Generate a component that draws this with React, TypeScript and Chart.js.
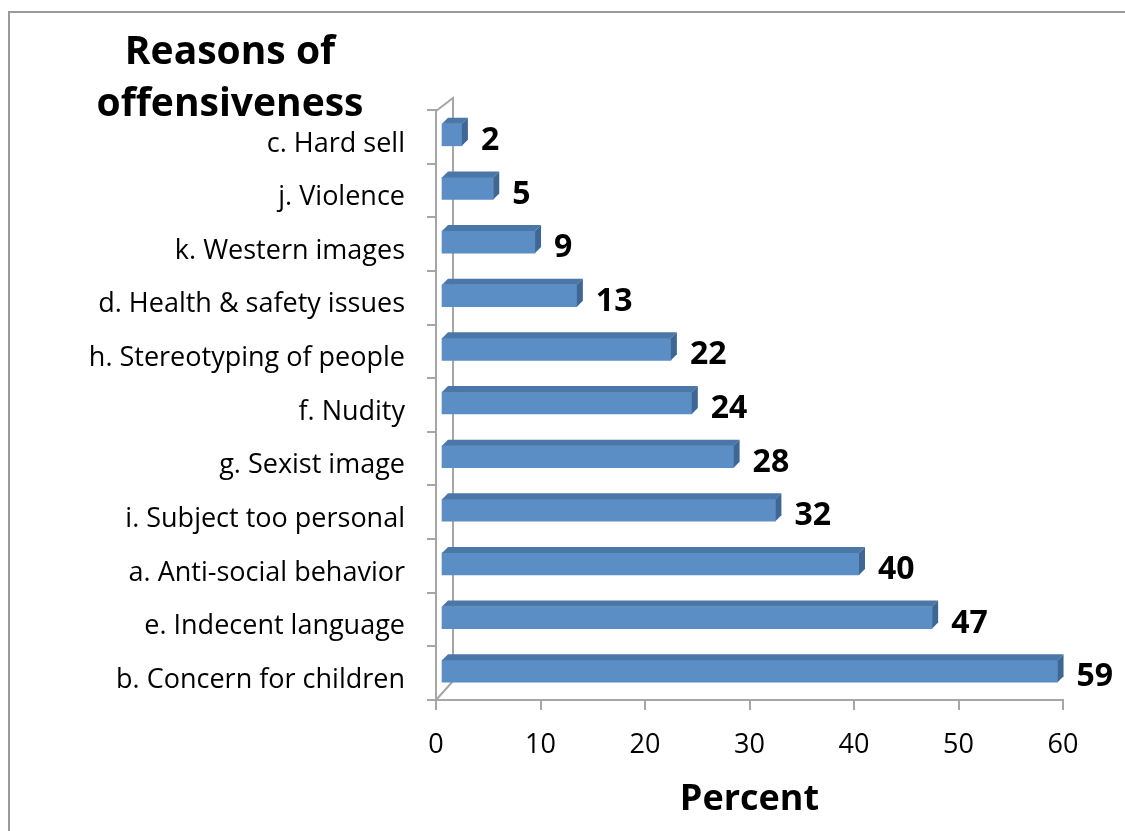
import React, { useEffect, useRef } from "react";
import { Chart, registerables } from "chart.js";

Chart.register(...registerables);

const categories: string[] = [
  "c. Hard sell",
  "j. Violence",
  "k. Western images",
  "d. Health & safety issues",
  "h. Stereotyping of people",
  "f. Nudity",
  "g. Sexist image",
  "i. Subject too personal",
  "a. Anti-social behavior",
  "e. Indecent language",
  "b. Concern for children",
];
const percentValues: number[] = [2, 5, 9, 13, 22, 24, 28, 32, 40, 47, 59];
const titleLines: string[] = ["Reasons of", "offensiveness"];
const xAxisTitle = "Percent";
const xMin = 0;
const xMax = 60;
const xStep = 10;

const FONT = "'Open Sans', 'DejaVu Sans', sans-serif";
const AXIS = "#a6a6a6";
const FRONT = "#5b8ec5";
const TOP = "#4b77a8";
const SIDE = "#3f6794";

const decorPlugin = {
  id: "decor3d",
  beforeDraw(chart: any) {
    const ctx = chart.ctx;
    ctx.save();
    // outer frame (left + top)
    ctx.strokeStyle = "#9a9a9a";
    ctx.lineWidth = 2;
    ctx.beginPath();
    ctx.moveTo(9, 831);
    ctx.lineTo(9, 12);
    ctx.lineTo(1125, 12);
    ctx.stroke();
    // back wall lines of the 3D plot
    const a = chart.chartArea;
    ctx.strokeStyle = AXIS;
    ctx.lineWidth = 2;
    ctx.beginPath();
    ctx.moveTo(a.left, a.top + 1);
    ctx.lineTo(a.left + 17, a.top - 12);
    ctx.lineTo(a.left + 17, a.bottom - 19);
    ctx.lineTo(a.left, a.bottom);
    ctx.stroke();
    // chart title
    ctx.fillStyle = "#000";
    ctx.font = `bold 39px ${FONT}`;
    ctx.textAlign = "center";
    ctx.textBaseline = "alphabetic";
    ctx.fillText(titleLines[0], 230, 64);
    ctx.fillText(titleLines[1], 230, 116);
    ctx.restore();
  },
  beforeDatasetsDraw(chart: any) {
    chart.ctx.save();
    chart.ctx.translate(5, -2);
  },
  afterDatasetsDraw(chart: any) {
    const ctx = chart.ctx;
    const meta = chart.getDatasetMeta(0);
    const d = 6;
    meta.data.forEach((bar: any) => {
      const left = Math.min(bar.base, bar.x);
      const right = Math.max(bar.base, bar.x);
      const top = bar.y - bar.height / 2;
      const bottom = bar.y + bar.height / 2;
      ctx.fillStyle = TOP;
      ctx.beginPath();
      ctx.moveTo(left, top);
      ctx.lineTo(left + d, top - d);
      ctx.lineTo(right + d, top - d);
      ctx.lineTo(right, top);
      ctx.closePath();
      ctx.fill();
      ctx.fillStyle = SIDE;
      ctx.beginPath();
      ctx.moveTo(right, top);
      ctx.lineTo(right + d, top - d);
      ctx.lineTo(right + d, bottom - d);
      ctx.lineTo(right, bottom);
      ctx.closePath();
      ctx.fill();
    });
    ctx.restore();
  },
  afterDraw(chart: any) {
    const ctx = chart.ctx;
    const meta = chart.getDatasetMeta(0);
    const a = chart.chartArea;
    ctx.save();
    ctx.fillStyle = "#000";
    ctx.font = `bold 32px ${FONT}`;
    ctx.textAlign = "left";
    ctx.textBaseline = "middle";
    meta.data.forEach((bar: any, i: number) => {
      ctx.fillText(String(percentValues[i]), bar.x + 24, bar.y + 4);
    });
    ctx.font = `bold 36px ${FONT}`;
    ctx.textAlign = "center";
    ctx.textBaseline = "alphabetic";
    ctx.fillText(xAxisTitle, (a.left + a.right) / 2, 810);
    ctx.restore();
  },
};

export default function App() {
  const ref = useRef<HTMLCanvasElement | null>(null);
  useEffect(() => {
    if (!ref.current) return;
    const chart = new Chart(ref.current, {
      type: "bar",
      data: {
        labels: categories,
        datasets: [
          {
            data: percentValues,
            backgroundColor: FRONT,
            borderWidth: 0,
            barThickness: 22,
          },
        ],
      },
      options: {
        indexAxis: "y",
        responsive: false,
        animation: false,
        devicePixelRatio: 1,
        layout: { padding: { top: 110, right: 62, left: 0, bottom: 0 } },
        plugins: {
          legend: { display: false },
          tooltip: { enabled: false },
          title: { display: false },
        },
        scales: {
          x: {
            min: xMin,
            max: xMax,
            ticks: {
              stepSize: xStep,
              color: "#000",
              font: { family: FONT, size: 27 },
              padding: 19,
            },
            grid: {
              drawOnChartArea: false,
              drawTicks: true,
              tickLength: 10,
              color: AXIS,
              lineWidth: 2,
            },
            border: { color: AXIS, width: 2 },
            afterFit: (s: any) => {
              s.height = 131;
            },
          },
          y: {
            ticks: {
              color: "#000",
              font: { family: FONT, size: 27 },
              padding: 22,
              labelOffset: 7,
            },
            grid: {
              drawOnChartArea: false,
              drawTicks: true,
              tickLength: 9,
              color: AXIS,
              lineWidth: 2,
              offset: true,
            },
            border: { color: AXIS, width: 2 },
            afterFit: (s: any) => {
              s.width = 436;
            },
          },
        },
      } as any,
      plugins: [decorPlugin],
    });
    return () => chart.destroy();
  }, []);
  return (
    <div style={{ position: "absolute", left: 0, top: 0, width: 1125, height: 831, background: "#fff" }}>
      <canvas ref={ref} width={1125} height={831} style={{ width: 1125, height: 831 }} />
    </div>
  );
}
